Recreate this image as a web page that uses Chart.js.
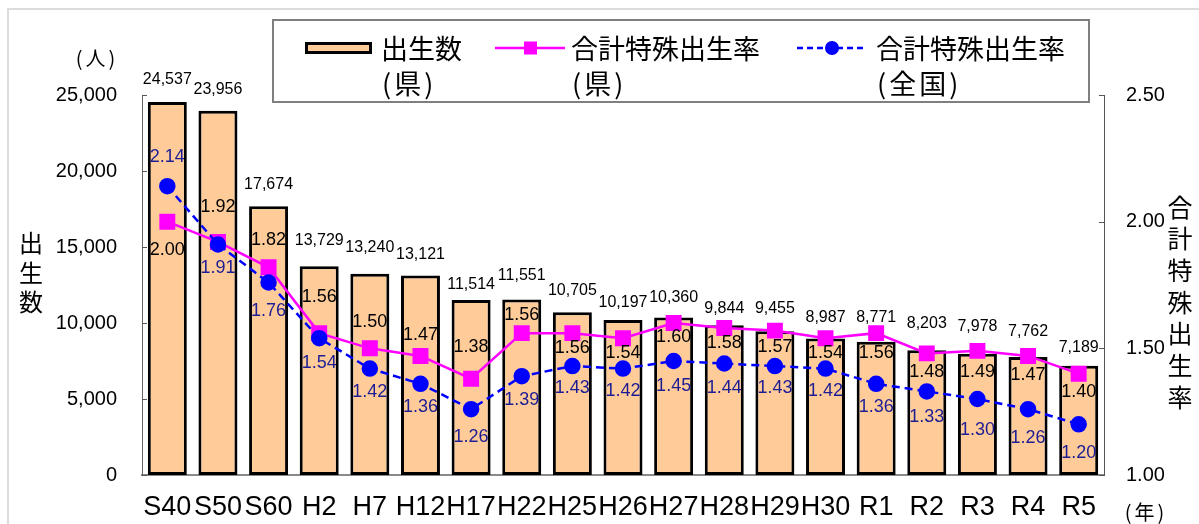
<!DOCTYPE html>
<html><head><meta charset="utf-8">
<script src="https://cdn.jsdelivr.net/npm/chart.js@4.4.1/dist/chart.umd.min.js"></script>
<style>html,body{margin:0;padding:0;background:#fff;}canvas{display:block;}</style>
</head><body>
<canvas id="c" width="1199" height="524"></canvas>
<script>
// ---- data ----
const categories = ['S40','S50','S60','H2','H7','H12','H17','H22','H25','H26','H27','H28','H29','H30','R1','R2','R3','R4','R5'];
const births = [24537,23956,17674,13729,13240,13121,11514,11551,10705,10197,10360,9844,9455,8987,8771,8203,7978,7762,7189];
const tfrPref = [2.00,1.92,1.82,1.56,1.50,1.47,1.38,1.56,1.56,1.54,1.60,1.58,1.57,1.54,1.56,1.48,1.49,1.47,1.40];
const tfrNational = [2.14,1.91,1.76,1.54,1.42,1.36,1.26,1.39,1.43,1.42,1.45,1.44,1.43,1.42,1.36,1.33,1.30,1.26,1.20];
const birthTicks = [0,5000,10000,15000,20000,25000];
const rateTicks = [1.00,1.50,2.00,2.50];
const legendLabels = [['出生数','(県)'],['合計特殊出生率','(県)'],['合計特殊出生率','(全国)']];

// ---- label placement (style) ----
const barLabelDy = [-22,-21,-22,-26,-26,-21,-15,-24,-22,-17,-20,-17,-23,-21,-24,-27,-27,-25,-18];
const prefLabelDy = [28,-35,-27,-36,-26,-21,-32,-18,15,15,14,15,16,15,20,19,21,19,18];
const natLabelDy = [-29,24,29,25,23,23,28,24,22,22,25,24,22,22,23,26,31,29,29];

const FONT_L = '"Liberation Sans", Arial, sans-serif';
const FONT_J = '"Noto Sans CJK JP", "Noto Sans CJK SC", sans-serif';

function txt(ctx, s, x, y, font, color, align, spacing) {
  ctx.save();
  ctx.font = font; ctx.fillStyle = color || '#000';
  ctx.textAlign = align || 'center'; ctx.textBaseline = 'middle';
  if (spacing) ctx.letterSpacing = spacing;
  ctx.fillText(s, x, y);
  ctx.restore();
}

const decor = {
  id: 'decor',
  beforeDraw(chart) {
    const ctx = chart.ctx;
    ctx.save();
    ctx.fillStyle = '#fff'; ctx.fillRect(0, 0, chart.width, chart.height);
    ctx.strokeStyle = '#dcdcdc'; ctx.lineWidth = 2;
    ctx.beginPath(); ctx.moveTo(8, chart.height); ctx.lineTo(8, 9); ctx.lineTo(chart.width, 9); ctx.stroke();
    ctx.restore();
  },
  afterDatasetsDraw(chart) {
    const ctx = chart.ctx;
    const ys = chart.scales.y, y1 = chart.scales.y1, area = chart.chartArea;
    ctx.save();
    ctx.strokeStyle = '#555'; ctx.lineWidth = 1;
    ys.ticks.forEach(t => {
      const p = Math.round(ys.getPixelForValue(t.value)) + 0.5;
      ctx.beginPath(); ctx.moveTo(area.left, p); ctx.lineTo(area.left + 5, p); ctx.stroke();
    });
    y1.ticks.forEach(t => {
      const p = Math.round(y1.getPixelForValue(t.value)) + 0.5;
      ctx.beginPath(); ctx.moveTo(area.right - 5, p); ctx.lineTo(area.right, p); ctx.stroke();
    });
    ctx.restore();

    chart.getDatasetMeta(0).data.forEach((el, i) =>
      txt(ctx, births[i].toLocaleString('en-US'), el.x, el.y + barLabelDy[i], '16px ' + FONT_L, '#000'));
    chart.getDatasetMeta(1).data.forEach((el, i) =>
      txt(ctx, tfrPref[i].toFixed(2), el.x, el.y + prefLabelDy[i], '18px ' + FONT_L, '#000'));
    chart.getDatasetMeta(2).data.forEach((el, i) =>
      txt(ctx, tfrNational[i].toFixed(2), el.x, el.y + natLabelDy[i], '18px ' + FONT_L, '#1c1c94'));
  },
  afterDraw(chart) {
    const ctx = chart.ctx;
    // legend box
    ctx.save();
    ctx.fillStyle = '#fff'; ctx.fillRect(273, 20, 816, 82);
    ctx.strokeStyle = '#7f7f7f'; ctx.lineWidth = 2; ctx.strokeRect(273, 20, 816, 82);
    // bar swatch
    ctx.fillStyle = '#FFCC99'; ctx.fillRect(306.5, 43.5, 64, 9);
    ctx.strokeStyle = '#000'; ctx.lineWidth = 3; ctx.strokeRect(306.5, 43.5, 64, 9);
    // pink line
    ctx.strokeStyle = '#FF00FF'; ctx.lineWidth = 2.5;
    ctx.beginPath(); ctx.moveTo(495, 48); ctx.lineTo(565, 48); ctx.stroke();
    ctx.fillStyle = '#FF00FF'; ctx.fillRect(524, 41.5, 13, 13);
    // blue dashed
    ctx.strokeStyle = '#0000FF'; ctx.lineWidth = 2.5; ctx.setLineDash([6, 4]);
    ctx.beginPath(); ctx.moveTo(797, 48); ctx.lineTo(867, 48); ctx.stroke();
    ctx.setLineDash([]);
    ctx.fillStyle = '#0000FF'; ctx.beginPath(); ctx.arc(832, 48, 7, 0, Math.PI * 2); ctx.fill();
    ctx.restore();
    const lx = [381, 571, 876];
    legendLabels.forEach((l, i) => {
      txt(ctx, l[0], lx[i], 49, '27px ' + FONT_J, '#000', 'left');
      txt(ctx, l[1], lx[i] + 1, 84, '27px ' + FONT_J, '#000', 'left', '3px');
    });
    // axis titles
    txt(ctx, '(人)', 97, 58, '20px ' + FONT_J, '#000', 'center', '3px');
    ['出','生','数'].forEach((c, i) => txt(ctx, c, 31, 243 + i * 29.5, '24px ' + FONT_J, '#000'));
    ['合','計','特','殊','出','生','率'].forEach((c, i) => txt(ctx, c, 1180, 207 + i * 31.7, '25px ' + FONT_J, '#000'));
    txt(ctx, '(年)', 1146, 512, '20px ' + FONT_J, '#000', 'center', '3px');
  }
};

new Chart(document.getElementById('c'), {
  data: {
    labels: categories,
    datasets: [
      { type: 'bar', label: '出生数（県）', data: births, yAxisID: 'y', order: 3,
        backgroundColor: '#FFCC99', borderColor: '#000', borderWidth: 3, borderSkipped: false,
        categoryPercentage: 1, barPercentage: 0.77 },
      { type: 'line', label: '合計特殊出生率（県）', data: tfrPref, yAxisID: 'y1', order: 2,
        borderColor: '#FF00FF', borderWidth: 2.5, tension: 0, fill: false,
        pointStyle: 'rect', pointRadius: 9.5, pointBackgroundColor: '#FF00FF', pointBorderColor: '#FF00FF' },
      { type: 'line', label: '合計特殊出生率（全国）', data: tfrNational, yAxisID: 'y1', order: 1,
        borderColor: '#0000FF', borderWidth: 2.5, borderDash: [8, 5], tension: 0, fill: false,
        pointStyle: 'circle', pointRadius: 7, pointBackgroundColor: '#0000FF', pointBorderColor: '#0000FF' }
    ]
  },
  options: {
    responsive: false, animation: false, devicePixelRatio: 1,
    layout: { padding: { top: 95, left: 0, right: 0, bottom: 0 } },
    plugins: { legend: { display: false }, tooltip: { enabled: false } },
    scales: {
      x: {
        offset: true,
        grid: { display: false, drawTicks: false },
        border: { display: true, color: '#8a8a8a', width: 2 },
        ticks: { font: { size: 27, family: FONT_L }, color: '#000', padding: 16, maxRotation: 0, autoSkip: false },
        afterFit(s) { s.height = 49; }
      },
      y: {
        position: 'left', min: 0, max: 25000,
        afterBuildTicks(s) { s.ticks = birthTicks.map(v => ({ value: v })); },
        grid: { display: false, drawTicks: false },
        border: { display: true, color: '#666', width: 1 },
        ticks: { font: { size: 20, family: FONT_L }, color: '#000', padding: 25,
          callback: v => Number(v).toLocaleString('en-US') },
        afterFit(s) { s.width = 142; }
      },
      y1: {
        position: 'right', min: 1, max: 2.5,
        afterBuildTicks(s) { s.ticks = rateTicks.map(v => ({ value: v })); },
        grid: { display: false, drawTicks: false },
        border: { display: true, color: '#555', width: 1 },
        ticks: { font: { size: 20, family: FONT_L }, color: '#000', padding: 22,
          callback: v => Number(v).toFixed(2) },
        afterFit(s) { s.width = 95; }
      }
    }
  },
  plugins: [decor]
});
</script>
</body></html>
